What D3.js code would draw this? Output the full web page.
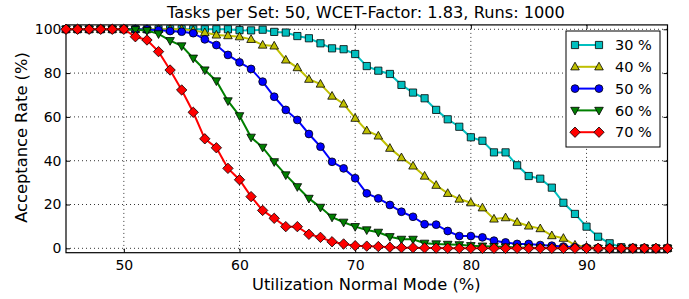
<!DOCTYPE html>
<html><head><meta charset="utf-8">
<script src="https://cdn.jsdelivr.net/npm/d3@7"></script>
<style>
html,body{margin:0;padding:0;background:#fff;}
svg{display:block;font-family:"DejaVu Sans",sans-serif;}
</style></head>
<body>
<svg id="c" width="689" height="299"></svg>
<script>
const xValues = d3.range(45, 98);
const s30 = [100,100,100,100,100,100,100,100,100,100,100,100,100,100,100,99.6,99.5,99.8,98.8,98.5,96.9,95.9,93.6,91.3,90.9,88.7,83.2,81.1,79.6,74.6,71.1,68.5,63.2,58.9,55.5,50.7,49.1,43.8,43.8,37.9,33.0,31.8,27.7,20.8,15.7,9.9,5.3,2.3,0.5,0.2,0,0,0];
const s40 = [100,100,100,100,100,100,100,100,100,100,100,99.5,98.5,97.4,97.1,96.6,95.4,92.8,92.4,86.0,82.5,77.2,75.0,69.5,65.9,59.4,53.7,51.3,45.7,41.4,37.6,33.0,28.8,25.1,22.5,20.8,18.5,13.4,14.0,11.9,10.2,9.0,5.8,4.6,1.5,0.6,0.2,0,0,0,0,0,0];
const s50 = [100,100,100,100,100,100,100,99.9,99.6,99.2,98.9,98.2,95.4,92.8,88.3,84.9,81.9,76.1,69.2,63.2,58.6,52.2,46.4,39.5,36.5,32.0,25.1,22.8,19.8,16.7,14.4,11.0,10.8,7.9,5.6,5.6,5.0,3.5,2.7,2.0,2.0,1.5,1.2,0.8,0.5,0.3,0.2,0,0,0,0,0,0];
const s60 = [100,100,100,100,100,100,99.8,99.4,97.9,94.8,92.4,86.8,81.4,76.4,67.3,60.5,50.7,46.1,39.5,33.5,28.1,22.8,18.7,14.2,11.9,9.9,8.4,7.3,5.3,4.1,4.1,2.3,2.0,1.8,1.6,1.2,1.0,0.8,0.6,0.4,0.3,0.2,0.1,0,0,0,0,0,0,0,0,0,0];
const s70 = [100,100,100,100,100,100,96.6,95.1,89.8,81.4,72.3,62.1,50.0,45.9,36.5,31.3,23.6,17.3,13.7,9.9,9.9,6.4,5.0,3.0,2.0,1.2,1.0,0.8,0.5,0.3,0.3,0.2,0.1,0,0,0,0,0,0,0,0,0,0,0,0,0,0,0,0,0,0,0,0];
const seriesNames = ["30 %","40 %","50 %","60 %","70 %"];
const seriesColors = ["#00bfbf","#bfbf00","#0000ff","#008000","#ff0000"];
const seriesMarkers = ["square","triangleUp","circle","triangleDown","diamond"];
const seriesData = [s30,s40,s50,s60,s70];
const xTicks = [50,60,70,80,90];
const yTicks = [0,20,40,60,80,100];
const titleText = "Tasks per Set: 50, WCET-Factor: 1.83, Runs: 1000";
const xLabel = "Utilization Normal Mode (%)";
const yLabel = "Acceptance Rate (%)";

const svg = d3.select("#c");
const L=66, R=667.5, T=24.9, B=252.7;
const x = d3.scaleLinear().domain([45,97]).range([L,R]);
const y = d3.scaleLinear().domain([-2,102]).range([B,T]);

// grid
const g = svg.append("g");
g.selectAll(".gx").data(xTicks).join("line")
  .attr("x1",d=>x(d)).attr("x2",d=>x(d)).attr("y1",T).attr("y2",B)
  .attr("stroke","#000").attr("stroke-width",0.8).attr("stroke-dasharray","1,3");
g.selectAll(".gy").data(yTicks).join("line")
  .attr("y1",d=>y(d)).attr("y2",d=>y(d)).attr("x1",L).attr("x2",R)
  .attr("stroke","#000").attr("stroke-width",0.8).attr("stroke-dasharray","1,3");

// axes with inward ticks
const ax = svg.append("g").attr("transform",`translate(0,${B})`)
  .call(d3.axisBottom(x).tickValues(xTicks).tickSize(-4).tickPadding(7).tickFormat(d3.format("d")));
const axT = svg.append("g").attr("transform",`translate(0,${T})`)
  .call(d3.axisTop(x).tickValues(xTicks).tickSize(-4).tickFormat(""));
const ay = svg.append("g").attr("transform",`translate(${L},0)`)
  .call(d3.axisLeft(y).tickValues(yTicks).tickSize(-4).tickPadding(4.5).tickFormat(d3.format("d")));
const ayR = svg.append("g").attr("transform",`translate(${R},0)`)
  .call(d3.axisRight(y).tickValues(yTicks).tickSize(-4).tickFormat(""));
[ax,axT,ay,ayR].forEach(a=>{
  a.select(".domain").remove();
  a.selectAll("line").attr("stroke","#000").attr("stroke-width",1);
  a.selectAll("text").attr("font-family","DejaVu Sans").attr("font-size",14).attr("fill","#000");
});

svg.append("rect").attr("x",L).attr("y",T).attr("width",R-L).attr("height",B-T)
  .attr("fill","none").attr("stroke","#000").attr("stroke-width",1.2);

// marker paths
function markerPath(type){
  switch(type){
    case "square": return "M-3.6,-3.6H3.6V3.6H-3.6Z";
    case "circle": return d3.symbol(d3.symbolCircle, Math.PI*3.9*3.9)();
    case "triangleUp": return "M0,-4.6L4.3,3.1L-4.3,3.1Z";
    case "triangleDown": return "M0,4.6L4.3,-3.1L-4.3,-3.1Z";
    case "diamond": return "M0,-5.2L5.2,0L0,5.2L-5.2,0Z";
  }
}

const line = d3.line().x((d,i)=>x(xValues[i])).y(d=>y(d));
const plot = svg.append("g");
seriesData.forEach((data,k)=>{
  const gs = plot.append("g");
  gs.append("path").datum(data).attr("d",line)
    .attr("fill","none").attr("stroke",seriesColors[k]).attr("stroke-width",2);
  gs.selectAll("path.m").data(data).join("path").attr("class","m")
    .attr("d",markerPath(seriesMarkers[k]))
    .attr("transform",(d,i)=>`translate(${x(xValues[i])},${y(d)})`)
    .attr("fill",seriesColors[k]).attr("stroke","#000").attr("stroke-width",0.8);
});

// legend
const lg = svg.append("g");
lg.append("rect").attr("x",566).attr("y",31).attr("width",94).attr("height",116)
  .attr("fill","#fff").attr("stroke","#000").attr("stroke-width",1);
seriesNames.forEach((n,k)=>{
  const yy = 45 + k*21.8;
  lg.append("line").attr("x1",575).attr("x2",599).attr("y1",yy).attr("y2",yy)
    .attr("stroke",seriesColors[k]).attr("stroke-width",2);
  [575,599].forEach(xx=>{
    lg.append("path").attr("d",markerPath(seriesMarkers[k]))
      .attr("transform",`translate(${xx},${yy})`)
      .attr("fill",seriesColors[k]).attr("stroke","#000").attr("stroke-width",0.8);
  });
  lg.append("text").attr("x",615).attr("y",yy).attr("dy","0.36em")
    .attr("font-size",14.5).attr("fill","#000").text(n);
});

svg.append("text").attr("x",366).attr("y",18.3).attr("text-anchor","middle")
  .attr("font-size",16.2).attr("fill","#000").text(titleText);
svg.append("text").attr("x",366.3).attr("y",290).attr("text-anchor","middle")
  .attr("font-size",16.3).attr("fill","#000").text(xLabel);
svg.append("text").attr("transform",`translate(26.7,137.5) rotate(-90)`).attr("text-anchor","middle")
  .attr("font-size",16.3).attr("fill","#000").text(yLabel);
</script>
</body></html>
